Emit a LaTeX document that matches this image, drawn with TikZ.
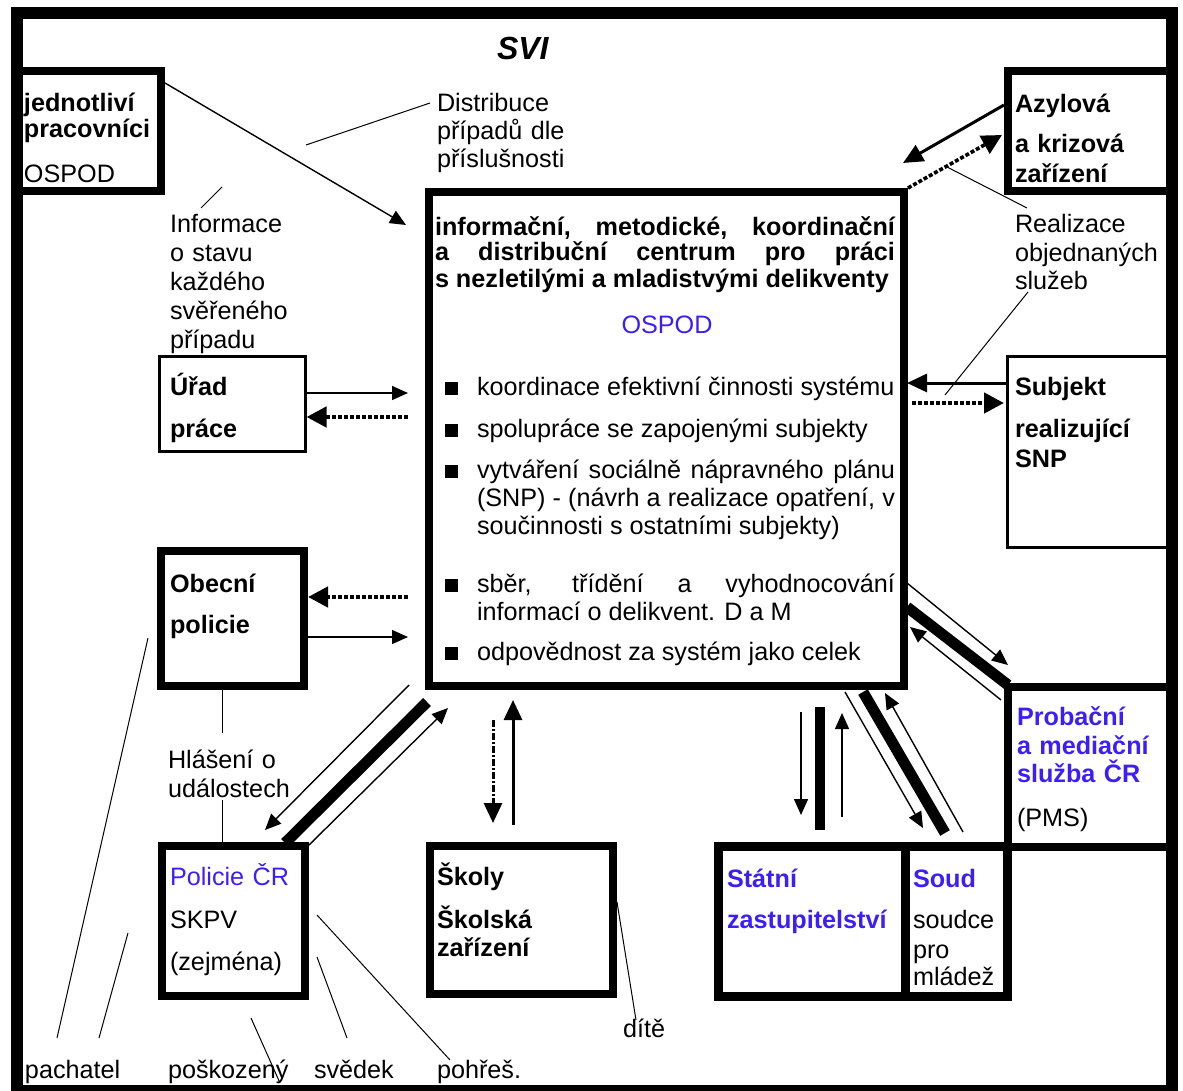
\documentclass[tikz,border=0pt]{standalone}
\usepackage{fontspec}
\setmainfont{Liberation Sans}
\usetikzlibrary{arrows.meta,calc}
\definecolor{ospodblue}{RGB}{60,30,250}
\newcommand{\fsz}{\fontsize{12.6}{14.25}\selectfont}
\newcommand{\sq}{\makebox[16pt][l]{\rule{6.5pt}{6.5pt}}}

\begin{document}
\begin{tikzpicture}[x=0.5pt,y=-0.5pt]
	\tikzstyle{every node}+=[inner sep=0pt, outer sep=0pt, font=\fsz]
	\tikzstyle{box}=[draw, line width=4pt, anchor=north west]
	\tikzstyle{thinbox}=[draw, line width=1.5pt, anchor=north west]
	\tikzstyle{txt}=[anchor=base west, text width=120pt, align=left, font=\fsz]
	\tikzstyle{btxt}=[anchor=base west, text width=120pt, align=left, font=\fsz\bfseries]
	\tikzstyle{item}=[anchor=base west, text width=225pt, align=justify, font=\fontsize{12.6}{14}\selectfont]
	\tikzstyle{arr}=[line width=0.7pt, -{Triangle[length=8pt,width=7pt]}]
	\tikzstyle{heavyarr}=[line width=1.5pt, -{Triangle[length=10pt,width=9pt]}]
	\tikzstyle{dotarr}=[line width=2.2pt, dash pattern=on 2pt off 1pt, -{Triangle[length=10pt,width=10pt]}]
	\tikzstyle{dasharr}=[line width=1.5pt, dash pattern=on 3.5pt off 1pt on 1pt off 1pt, -{Triangle[length=10pt,width=9pt]}]
	\tikzstyle{bar}=[line width=5.5pt]
	\tikzstyle{leader}=[line width=0.5pt]
	\useasboundingbox (0,0) rectangle (1183,1091);
	\node[box, minimum width=71.5pt, minimum height=60pt] (jedn) at (18,71) {};
	\node[box, minimum width=237.5pt, minimum height=247pt] (ctr) at (429,192) {};
	\node[thinbox, minimum width=73pt, minimum height=47.5pt] (urad) at (159.5,356.5) {};
	\node[box, minimum width=71.5pt, minimum height=67.5pt] (obec) at (161,551) {};
	\node[box, minimum width=71.5pt, minimum height=75pt] (polcr) at (162,846) {};
	\node[box, minimum width=91.5pt, minimum height=74pt] (skoly) at (430,846) {};
	\node[box, line width=4.5pt, minimum width=93.25pt, minimum height=75pt] (statni) at (718.5,846.5) {};
	\node[box, line width=4.5pt, minimum width=51.25pt, minimum height=75pt] (soud) at (905,846.5) {};
	\node[box, minimum width=82pt, minimum height=60pt] (azyl) at (1008,71) {};
	\node[thinbox, minimum width=82.25pt, minimum height=95.5pt] (subj) at (1007.5,356.5) {};
	\node[box, minimum width=82pt, minimum height=79.75pt] (prob) at (1008,687) {};
	\draw[line width=6pt] (16.5,13) rectangle (1172,1091);
	\node[anchor=base west, font=\fontsize{16}{18}\selectfont\bfseries\itshape] (svi) at (497,60) {SVI};
	\node[btxt] (jedn-t) at (24,112) {jednotliví\\[-1.25pt]pracovníci\\[8.25pt]{\mdseries OSPOD}};
	\node[txt, font=\fontsize{12.6}{14}\selectfont] (distr-t) at (437,112) {Distribuce\\případů dle\\příslušnosti};
	\node[txt, font=\fontsize{12.6}{14.4}\selectfont] (info-t) at (170,233) {Informace\\o stavu\\každého\\svěřeného\\případu};
	\node[btxt] (urad-t) at (170,395) {Úřad\\[6.75pt]práce};
	\node[btxt] (obec-t) at (170,592) {Obecní\\[6.25pt]policie};
	\node[txt, font=\fontsize{12.6}{14.5}\selectfont] (hlas-t) at (168,768) {Hlášení o\\událostech};
	\node[txt] (polcr-t) at (170,885) {{\color{ospodblue}Policie ČR}\\[7.25pt]SKPV\\[6.75pt](zejména)};
	\node[btxt] (skoly-t) at (437,885) {Školy\\[7.25pt]Školská\\zařízení};
	\node[btxt, text=ospodblue] (statni-t) at (727,887) {Státní\\[6.25pt]zastupitelství};
	\node[txt] (soud-t) at (913,887) {{\bfseries\color{ospodblue}Soud}\\[6.25pt]soudce\\[0.75pt]pro\\[-0.75pt]mládež};
	\node[txt] (prob-t) at (1017,725) {{\bfseries\color{ospodblue}Probační}\\[0.25pt]{\bfseries\color{ospodblue}a mediační}\\[-0.25pt]{\bfseries\color{ospodblue}služba ČR}\\[7.75pt](PMS)};
	\node[btxt] (azyl-t) at (1015,113) {Azylová\\[5.75pt]a krizová\\[0.75pt]zařízení};
	\node[txt] (real-t) at (1015,233) {Realizace\\objednaných\\služeb};
	\node[btxt] (subj-t) at (1015,395) {Subjekt\\[6.75pt]realizující\\[0.75pt]SNP};
	\node[anchor=base west, text width=230pt, align=justify, font=\fontsize{12.6}{13}\selectfont\bfseries] (ctr-t) at (435,235) {informační, metodické, koordinační\linebreak a distribuční centrum pro práci\linebreak s nezletilými a mladistvými delikventy};
	\node[anchor=base, text=ospodblue] (ospod-t) at (667,333) {OSPOD};
	\node[item] (b1) at (445,395) {\sq koordinace efektivní činnosti systému};
	\node[item] (b2) at (445,437) {\sq spolupráce se zapojenými subjekty};
	\node[item] (b3) at (445,478) {\hangindent=16pt \hangafter=1 \sq vytváření sociálně nápravného plánu\linebreak (SNP) - (návrh a realizace opatření, v\linebreak součinnosti s ostatními subjekty)\par};
	\node[item] (b4) at (445,592) {\hangindent=16pt \hangafter=1 \sq sběr, třídění a vyhodnocování\linebreak informací o delikvent. D a M\par};
	\node[item] (b5) at (445,660) {\sq odpovědnost za systém jako celek};
	\node[txt] (pach-t) at (25,1078) {pachatel};
	\node[txt] (posk-t) at (168,1078) {poškozený};
	\node[txt] (sved-t) at (314,1078) {svědek};
	\node[txt] (pohr-t) at (437,1078) {pohřeš.};
	\node[txt] (dite-t) at (623,1037) {dítě};
	\coordinate (distr-pt) at (306,145);
	\coordinate (info-pt) at (222,187);
	\coordinate (real-a) at (947,167);
	\coordinate (real-b) at (945,395);
	\coordinate (pach-pt) at (128,933);
	\draw[arr] ($(jedn.north east)+(4,12)$) -- ($(ctr.north west)+(-23,33)$);
	\draw[leader] (distr-pt) -- ($(distr-t.base west)+(-7,-9)$);
	\draw[leader] ($(info-t.base west)+(31,-25)$) -- (info-pt);
	\draw[arr] ($(urad.east)+(1,-11)$) -- ($(urad.east -| ctr.west)+(-21,-11)$);
	\draw[dotarr] ($(urad.east -| ctr.west)+(-21,13)$) -- ($(urad.east)+(1,13)$);
	\draw[dotarr] ($(obec.east -| ctr.west)+(-21,-21.5)$) -- ($(obec.east)+(4,-21.5)$);
	\draw[arr] ($(obec.east)+(4,18.5)$) -- ($(obec.east -| ctr.west)+(-21,18.5)$);
	\draw[leader] ($(obec.south)+(-10.5,4)$) -- ($(hlas-t.base west)+(54,-35)$);
	\draw[leader] ($(hlas-t.base west)+(54,32)$) -- ($(polcr.north)+(-11.5,-4)$);
	\draw[arr] ($(ctr.south west)+(-20,-1)$) -- ($(polcr.north east)+(-40,-16)$);
	\draw[bar] ($(ctr.south west)+(-2,16)$) -- ($(polcr.north east)+(-20,-3)$);
	\draw[arr] ($(polcr.north east)+(4,-1)$) -- ($(ctr.south west)+(19,22)$);
	\draw[dasharr] ($(ctr.south west)+(64,34)$) -- ($(skoly.north)+(-28.5,-23)$);
	\draw[heavyarr] ($(skoly.north)+(-8.5,-21)$) -- ($(ctr.south west)+(84,14)$);
	\draw[arr] ($(ctr.south -| statni.north)+(-10.75,26)$) -- ($(statni.north)+(-10.75,-31.5)$);
	\draw[bar, line width=5pt] ($(ctr.south -| statni.north)+(8.25,21)$) -- ($(statni.north)+(8.25,-16.5)$);
	\draw[arr] ($(statni.north)+(30.25,-29.5)$) -- ($(ctr.south -| statni.north)+(30.25,27)$);
	\draw[arr] ($(ctr.south east)+(-59,6)$) -- ($(soud.north)+(-33.25,-18.5)$);
	\draw[bar] ($(ctr.south east)+(-41,6)$) -- ($(soud.north)+(-11.25,-13.5)$);
	\draw[arr] ($(soud.north)+(6.75,-14.5)$) -- ($(ctr.south east)+(-19,7)$);
	\draw[arr] ($(ctr.east)+(3,144)$) -- ($(prob.north west)+(0,-22)$);
	\draw[bar] ($(ctr.east)+(3,168)$) -- ($(prob.north west)+(0,-2)$);
	\draw[arr] ($(prob.north west)+(-7,13)$) -- ($(ctr.east)+(6,188)$);
	\draw[heavyarr] ($(azyl.west)+(-4,-26)$) -- ($(ctr.north east)+(-1,-29)$);
	\draw[dotarr, line width=1.8pt] ($(ctr.north east)+(4,-4)$) -- ($(azyl.west)+(-6,4)$);
	\draw[leader] (real-a) -- ($(real-t.base west)+(12,-25)$);
	\draw[leader] ($(real-t.base west)+(13,59)$) -- (real-b);
	\draw[heavyarr] ($(subj.west)+(-1.5,-69)$) -- ($(ctr.east)+(3,-56)$);
	\draw[dotarr] ($(ctr.east)+(8,-36)$) -- ($(subj.west)+(-3.5,-49)$);
	\draw[leader] ($(obec.west)+(-13,19.5)$) -- ($(pach-t.base west)+(32,-40)$);
	\draw[leader] (pach-pt) -- ($(pach-t.base west)+(74,-40)$);
	\draw[leader] ($(polcr.south)+(17.5,22)$) -- ($(posk-t.base west)+(112,5)$);
	\draw[leader] ($(polcr.east)+(12,36)$) -- ($(sved-t.base west)+(33,-40)$);
	\draw[leader] ($(polcr.east)+(12,-6)$) -- ($(pohr-t.base west)+(13,-18)$);
	\draw[leader] ($(skoly.east)+(4,-18)$) -- ($(dite-t.base west)+(13,-17)$);
\end{tikzpicture}
\end{document}
